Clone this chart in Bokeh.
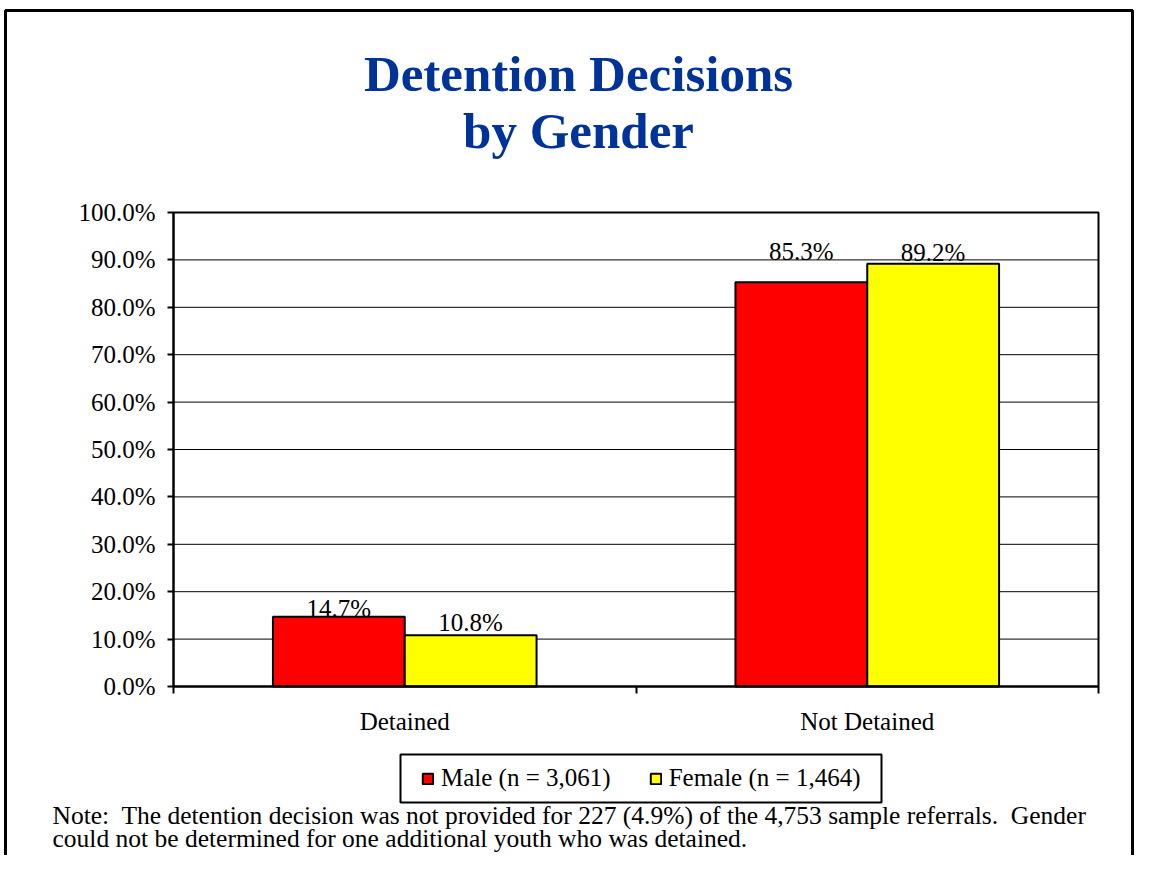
import numpy as np
from bokeh.plotting import figure
from bokeh.models import (ColumnDataSource, FixedTicker, PrintfTickFormatter, LabelSet,
                          Label, Legend, LegendItem, BoxAnnotation, Range1d)
from bokeh.core.properties import value
from bokeh.embed import file_html
from bokeh.resources import INLINE

# ---- data ----
categories = ["Detained", "Not Detained"]
male = [14.7, 85.3]
female = [10.8, 89.2]
series_names = ["Male (n = 3,061)", "Female (n = 1,464)"]
y_ticks = [0, 10, 20, 30, 40, 50, 60, 70, 80, 90, 100]
title_lines = ["Detention Decisions", "by Gender"]
note_lines = [
    "Note:\u00a0 The detention decision was not provided for 227 (4.9%) of the 4,753 sample referrals.\u00a0 Gender",
    "could not be determined for one additional youth who was detained.",
]

# ---- style / layout ----
FONT = "Liberation Serif"
TXT = "25px"
RED = "#FF0000"
YEL = "#FFFF00"
BLUE = "#003399"
BAR_W = 0.285
label_lift = [0, 4, 22, 3]  # px lift of value labels (male/female per category)

W, H = 1135, 855
PX_L, PX_R, PX_T, PX_B = 173, 1098, 212, 686   # plot-area edges on the canvas
ncat = len(categories)
xs = (PX_R - PX_L) / ncat
ys = (PX_B - PX_T) / 100.0
x_range = Range1d(-PX_L / xs, ncat + (W - PX_R) / xs)
y_range = Range1d(-(H - PX_B) / ys, 100 + PX_T / ys)

p = figure(width=W, height=H, x_range=x_range, y_range=y_range,
           output_backend="svg", toolbar_location=None,
           min_border_left=0, min_border_right=0, min_border_top=0, min_border_bottom=0)
p.title.visible = False
p.background_fill_color = "white"
p.border_fill_color = "white"
p.outline_line_color = None
p.xgrid.visible = False
p.ygrid.visible = False

# gridlines across the plot area only
p.segment(x0=0, x1=ncat, y0=y_ticks, y1=y_ticks, line_color="black", line_width=1)

centers = np.arange(ncat) + 0.5
r_m = p.vbar(x=centers - BAR_W / 2, top=male, width=BAR_W, bottom=0,
             fill_color=RED, line_color="black", line_width=2)
r_f = p.vbar(x=centers + BAR_W / 2, top=female, width=BAR_W, bottom=0,
             fill_color=YEL, line_color="black", line_width=2)

# plot-area border (top / right)
p.quad(left=0, right=ncat, bottom=0, top=100, fill_color=None,
       line_color="black", line_width=2)

# y axis
p.yaxis.fixed_location = 0
p.yaxis.bounds = (0, 100)
p.yaxis.ticker = FixedTicker(ticks=y_ticks)
p.yaxis.formatter = PrintfTickFormatter(format="%.1f%%")
p.yaxis.axis_line_width = 2
p.yaxis.axis_line_color = "black"
p.yaxis.major_tick_line_width = 2
p.yaxis.major_tick_line_color = "black"
p.yaxis.major_tick_out = 6
p.yaxis.major_tick_in = 0
p.yaxis.minor_tick_line_color = None
p.yaxis.major_label_standoff = 12
p.yaxis.major_label_text_font = FONT
p.yaxis.major_label_text_font_size = TXT
p.yaxis.major_label_text_color = "black"

# x axis: labels at category centres, ticks at category boundaries
p.xaxis.fixed_location = 0
p.xaxis.bounds = (0, ncat)
p.xaxis.ticker = FixedTicker(ticks=list(centers), minor_ticks=list(range(ncat + 1)))
p.xaxis.major_label_overrides = {float(c): n for c, n in zip(centers, categories)}
p.xaxis.axis_line_width = 2
p.xaxis.axis_line_color = "black"
p.xaxis.major_tick_line_color = None
p.xaxis.major_tick_out = 0
p.xaxis.major_tick_in = 0
p.xaxis.minor_tick_line_color = "black"
p.xaxis.minor_tick_line_width = 2
p.xaxis.minor_tick_out = 7
p.xaxis.minor_tick_in = 0
p.xaxis.major_label_standoff = 14
p.xaxis.major_label_text_font = FONT
p.xaxis.major_label_text_font_size = TXT
p.xaxis.major_label_text_color = "black"

# value labels
lab_x, lab_y, lab_t = [], [], []
for i, c in enumerate(centers):
    for off, vals in ((-BAR_W / 2, male), (BAR_W / 2, female)):
        lab_x.append(c + off)
        lab_y.append(vals[i])
        lab_t.append("%.1f%%" % vals[i])
src = ColumnDataSource(dict(x=lab_x, y=lab_y, t=lab_t, lift=label_lift))
p.add_layout(LabelSet(x="x", y="y", text="t", source=src, y_offset="lift",
                      text_align="center", text_baseline="alphabetic",
                      text_font=value(FONT), text_font_size=value(TXT), text_color="black"))

# title (screen units: frame == whole canvas, y measured from bottom)
for txt, py in zip(title_lines, [73, 130]):
    p.add_layout(Label(x=578, y=H - py, x_units="screen", y_units="screen", text=txt,
                       text_font=FONT, text_font_size="51px", text_font_style="bold",
                       text_color=BLUE, text_align="center", text_baseline="alphabetic"))

# note
for txt, py in zip(note_lines, [815, 838]):
    p.add_layout(Label(x=52, y=H - py, x_units="screen", y_units="screen", text=txt,
                       text_font=FONT, text_font_size="25.5px", text_color="black",
                       text_align="left", text_baseline="alphabetic"))

# legend box + legend
p.add_layout(BoxAnnotation(left=400, right=881, top=H - 754, bottom=H - 802,
                           left_units="screen", right_units="screen",
                           top_units="screen", bottom_units="screen",
                           fill_color="white", fill_alpha=1,
                           line_color="black", line_alpha=1, line_width=2))
legend = Legend(items=[LegendItem(label=series_names[0], renderers=[r_m]),
                       LegendItem(label=series_names[1], renderers=[r_f])],
                location=(421, H - 792), orientation="horizontal",
                border_line_color=None, background_fill_alpha=0,
                padding=10, spacing=38, margin=0,
                glyph_width=13, glyph_height=13, label_standoff=7,
                label_text_font=FONT, label_text_font_size=TXT, label_text_color="black")
p.add_layout(legend)

# outer frame of the slide
p.add_layout(BoxAnnotation(left=5, right=1132, top=H - 10, bottom=-20,
                           left_units="screen", right_units="screen",
                           top_units="screen", bottom_units="screen",
                           fill_alpha=0, line_color="black", line_alpha=1, line_width=3))

open("out.html", "w").write(file_html(p, INLINE))
